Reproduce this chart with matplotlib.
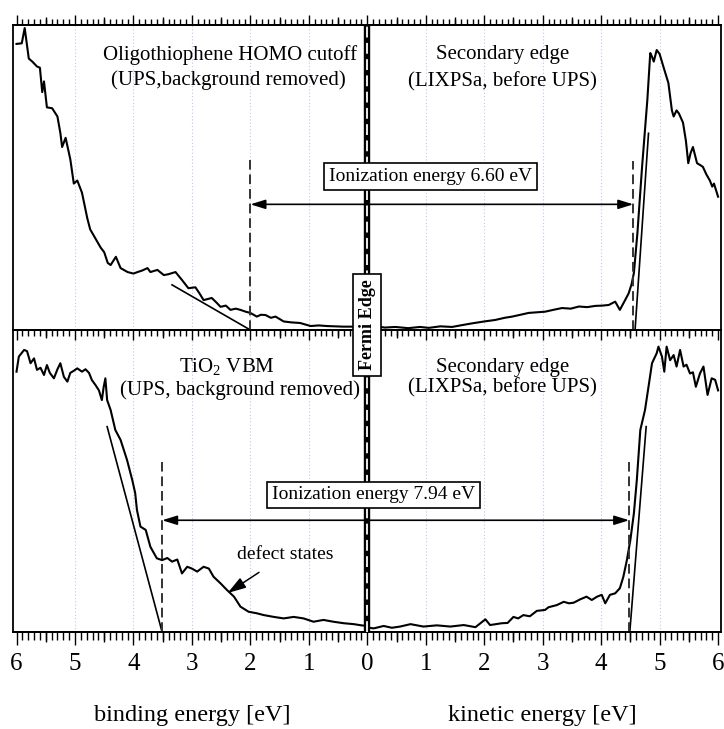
import matplotlib

matplotlib.use("Agg")
import matplotlib.pyplot as plt
import matplotlib.transforms as mtransforms
import numpy as np
from matplotlib.ticker import FuncFormatter, MultipleLocator

plt.rcParams["font.family"] = ["Liberation Serif", "DejaVu Serif"]
plt.rcParams["mathtext.fontset"] = "custom"
plt.rcParams["mathtext.rm"] = "Liberation Serif"

# --- top panel: oligothiophene (UPS, binding energy) + LIXPS secondary edge (kinetic energy)
top_be = [6.0, 5.91, 5.86, 5.79, 5.73, 5.65, 5.60, 5.56, 5.53, 5.48, 5.39, 5.30, 5.25, 5.22,
          5.16, 5.08, 5.02, 4.96, 4.88, 4.79, 4.74, 4.65, 4.56, 4.50, 4.44, 4.39, 4.30, 4.22,
          4.10, 4.00, 3.93, 3.85, 3.76, 3.71, 3.59, 3.48, 3.40, 3.28, 3.17, 3.06, 2.94, 2.87,
          2.80, 2.66, 2.58, 2.51, 2.42, 2.34, 2.25, 2.17, 2.08, 2.00, 1.89, 1.82, 1.74, 1.65,
          1.57, 1.43, 1.30, 1.15, 0.97, 0.83, 0.69, 0.55, 0.41, 0.23, 0.10, 0.0]
top_be_int = [0.938, 0.94, 0.99, 0.89, 0.88, 0.864, 0.86, 0.78, 0.815, 0.73, 0.727, 0.70, 0.646,
              0.60, 0.63, 0.56, 0.48, 0.49, 0.45, 0.367, 0.33, 0.30, 0.27, 0.255, 0.22, 0.213,
              0.24, 0.203, 0.19, 0.185, 0.19, 0.195, 0.203, 0.19, 0.197, 0.18, 0.183, 0.19,
              0.164, 0.137, 0.14, 0.12, 0.098, 0.105, 0.09, 0.076, 0.08, 0.066, 0.07, 0.066,
              0.06, 0.056, 0.044, 0.05, 0.049, 0.04, 0.044, 0.028, 0.025, 0.023, 0.013, 0.015,
              0.013, 0.012, 0.011, 0.011, 0.01, 0.008]
top_ke = [0.0, 0.15, 0.3, 0.48, 0.7, 0.9, 1.05, 1.25, 1.45, 1.62, 1.8, 2.0, 2.19, 2.35, 2.48,
          2.62, 2.76, 2.9, 3.04, 3.18, 3.33, 3.48, 3.62, 3.76, 3.9, 4.02, 4.13, 4.24, 4.32,
          4.41, 4.47, 4.52, 4.56, 4.62, 4.70, 4.79, 4.84, 4.87, 4.90, 4.95, 5.00, 5.07, 5.15,
          5.21, 5.24, 5.29, 5.33, 5.40, 5.45, 5.49, 5.53, 5.57, 5.64, 5.70, 5.74, 5.80, 5.86,
          5.90, 5.93, 6.0]
top_ke_int = [0.01, 0.012, 0.008, 0.01, 0.006, 0.01, 0.007, 0.012, 0.01, 0.016, 0.022, 0.028,
              0.033, 0.04, 0.044, 0.05, 0.056, 0.058, 0.06, 0.066, 0.072, 0.07, 0.077, 0.075,
              0.079, 0.08, 0.082, 0.093, 0.066, 0.098, 0.12, 0.15, 0.187, 0.317, 0.535, 0.754,
              0.908, 0.896, 0.88, 0.918, 0.905, 0.86, 0.81, 0.72, 0.70, 0.72, 0.71, 0.68, 0.62,
              0.547, 0.58, 0.60, 0.547, 0.54, 0.535, 0.51, 0.49, 0.47, 0.48, 0.437]

# --- bottom panel: TiO2 VBM (UPS) + LIXPS secondary edge
bot_be = [6.0, 5.96, 5.87, 5.82, 5.76, 5.70, 5.65, 5.59, 5.53, 5.48, 5.43, 5.36, 5.30, 5.25,
          5.19, 5.13, 5.08, 5.02, 4.96, 4.88, 4.82, 4.76, 4.71, 4.65, 4.59, 4.54, 4.51, 4.48,
          4.45, 4.39, 4.31, 4.22, 4.11, 4.02, 3.97, 3.94, 3.88, 3.79, 3.71, 3.60, 3.51, 3.42,
          3.34, 3.25, 3.17, 3.08, 3.00, 2.91, 2.80, 2.71, 2.63, 2.51, 2.40, 2.28, 2.17, 2.03,
          1.89, 1.77, 1.60, 1.43, 1.26, 1.09, 0.92, 0.75, 0.58, 0.40, 0.23, 0.10, 0.0]
bot_be_int = [0.862, 0.912, 0.934, 0.93, 0.89, 0.906, 0.868, 0.875, 0.851, 0.884, 0.858, 0.84,
              0.87, 0.89, 0.845, 0.829, 0.858, 0.865, 0.873, 0.862, 0.87, 0.858, 0.834, 0.818,
              0.80, 0.768, 0.81, 0.84, 0.768, 0.735, 0.669, 0.636, 0.57, 0.503, 0.46, 0.404,
              0.349, 0.338, 0.282, 0.244, 0.238, 0.245, 0.233, 0.24, 0.194, 0.216, 0.21, 0.2,
              0.216, 0.21, 0.183, 0.161, 0.139, 0.117, 0.084, 0.067, 0.062, 0.056, 0.05, 0.045,
              0.05, 0.045, 0.034, 0.04, 0.034, 0.029, 0.026, 0.022, 0.02]
bot_ke = [0.0, 0.11, 0.28, 0.42, 0.56, 0.74, 0.96, 1.19, 1.42, 1.65, 1.85, 2.02, 2.10, 2.30,
          2.40, 2.50, 2.58, 2.67, 2.78, 2.90, 3.04, 3.10, 3.24, 3.36, 3.45, 3.53, 3.64, 3.75,
          3.84, 3.93, 4.01, 4.07, 4.15, 4.24, 4.32, 4.38, 4.44, 4.50, 4.56, 4.61, 4.67, 4.75,
          4.81, 4.87, 4.95, 4.98, 5.04, 5.08, 5.12, 5.18, 5.24, 5.29, 5.35, 5.41, 5.46, 5.52,
          5.57, 5.62, 5.69, 5.75, 5.82, 5.89, 5.95, 6.0]
bot_ke_int = [0.015, 0.012, 0.02, 0.014, 0.018, 0.026, 0.018, 0.022, 0.018, 0.023, 0.016, 0.042,
              0.023, 0.029, 0.03, 0.05, 0.045, 0.056, 0.052, 0.07, 0.073, 0.082, 0.089, 0.1,
              0.095, 0.097, 0.108, 0.117, 0.106, 0.117, 0.123, 0.095, 0.123, 0.128, 0.145,
              0.183, 0.238, 0.305, 0.393, 0.503, 0.669, 0.735, 0.812, 0.89, 0.923, 0.945, 0.912,
              0.862, 0.945, 0.90, 0.917, 0.879, 0.934, 0.879, 0.885, 0.856, 0.86, 0.812, 0.856,
              0.879, 0.785, 0.84, 0.835, 0.80]

# onsets (eV) and linear fits used to find them, as (signed energy, intensity) pairs
top_homo_onset = 2.00
top_sec_edge = 4.55
bot_vbm_onset = 3.51
bot_sec_edge = 4.48
top_fit_left = ([-3.34, -2.00], [0.148, 0.0])
top_fit_right = ([4.58, 4.81], [0.0, 0.645])
bot_fit_left = ([-4.45, -3.51], [0.68, 0.0])
bot_fit_right = ([4.49, 4.77], [0.0, 0.68])
ionization = [6.60, 7.94]

fig = plt.figure(figsize=(7.24, 7.29), dpi=100)
ax1 = fig.add_axes([13 / 724, 1 - 330 / 729, 708 / 724, 305 / 729])
ax2 = fig.add_axes([13 / 724, 1 - 632 / 729, 708 / 724, 302 / 729])
ax2.set_facecolor("none")
ax1.set_zorder(1)
ax1.set_facecolor("none")

half_ticks = np.arange(-5.5, 6, 1.0)

for ax in (ax1, ax2):
    ax.set_xlim(-6.06, 6.05)
    ax.set_ylim(0, 1)
    ax.set_yticks([])
    ax.xaxis.set_major_locator(MultipleLocator(1))
    ax.xaxis.set_minor_locator(MultipleLocator(0.1))
    for s in ax.spines.values():
        s.set_linewidth(1.3)
    for g in [-5, -4, -3, -2, -1, 1, 2, 3, 4, 5]:
        ax.axvline(g, color="#c4c4f0", lw=0.8, ls=(0, (1, 2)), zorder=0)
    # Fermi edge marker
    ax.axvline(0, color="black", lw=4.6, zorder=3)
    ax.axvline(0, color="white", lw=1.3, ls=(0, (6, 3)), zorder=3)

ax1.tick_params(axis="x", which="both", direction="out", top=True, bottom=True,
                labelbottom=False, width=1.0)
ax1.tick_params(axis="x", which="major", length=7)
ax1.tick_params(axis="x", which="minor", length=4)
ax2.tick_params(axis="x", which="both", direction="out", top=False, bottom=True, width=1.0,
                labelsize=18, pad=6)
ax2.tick_params(axis="x", which="major", length=9)
ax2.tick_params(axis="x", which="minor", length=5.5)
ax2.xaxis.set_major_formatter(FuncFormatter(lambda v, p: f"{abs(v):g}"))

# half-unit ticks of intermediate length
for ax, side, ln in ((ax1, "top", 5.5), (ax1, "bottom", 5.5), (ax2, "bottom", 7.5)):
    sec = ax.secondary_xaxis(side)
    sec.set_xticks(half_ticks)
    sec.tick_params(axis="x", direction="out", length=ln, width=1.0,
                    labeltop=False, labelbottom=False)
    sec.spines[side].set_linewidth(1.3)

# spectra
ax1.plot(-np.array(top_be), top_be_int, color="black", lw=1.5, zorder=2)
ax1.plot(top_ke, top_ke_int, color="black", lw=1.5, zorder=2)
ax2.plot(-np.array(bot_be), bot_be_int, color="black", lw=1.5, zorder=2)
ax2.plot(bot_ke, bot_ke_int, color="black", lw=1.5, zorder=2)

ax1.plot(*top_fit_left, color="black", lw=1.2)
ax1.plot(*top_fit_right, color="black", lw=1.2)
ax2.plot(*bot_fit_left, color="black", lw=1.2)
ax2.plot(*bot_fit_right, color="black", lw=1.2)

dash = (0, (5, 2.5))
ax1.plot([-top_homo_onset] * 2, [0, 0.557], color="#333333", lw=1.4, ls=dash)
ax1.plot([top_sec_edge] * 2, [0, 0.553], color="#333333", lw=1.4, ls=dash)
ax2.plot([-bot_vbm_onset] * 2, [0, 0.564], color="#333333", lw=1.4, ls=dash)
ax2.plot([bot_sec_edge] * 2, [0, 0.564], color="#333333", lw=1.4, ls=dash)

arrow = dict(arrowstyle="<|-|>,head_length=0.9,head_width=0.28", color="black", lw=1.2,
             shrinkA=0, shrinkB=0)
ax1.annotate("", xy=(-top_homo_onset, 0.412), xytext=(top_sec_edge, 0.412), arrowprops=arrow)
ax2.annotate("", xy=(-bot_vbm_onset, 0.370), xytext=(bot_sec_edge, 0.370), arrowprops=arrow)

box = dict(boxstyle="square,pad=0.25", fc="white", ec="black", lw=1.2)
ax1.text(1.08, 0.503, f"Ionization energy {ionization[0]:.2f} eV", ha="center", va="center",
         fontsize=14, bbox=box, zorder=5)
ax2.text(0.10, 0.454, f"Ionization energy {ionization[1]:.2f} eV", ha="center", va="center",
         fontsize=14, bbox=box, zorder=5)

fs = 15
ax1.text(-2.35, 0.902, "Oligothiophene HOMO cutoff", ha="center", va="center", fontsize=fs)
ax1.text(-2.38, 0.82, "(UPS,background removed)", ha="center", va="center", fontsize=fs)
ax1.text(2.31, 0.902, "Secondary edge", ha="center", va="center", fontsize=fs)
ax1.text(2.31, 0.813, "(LIXPSa, before UPS)", ha="center", va="center", fontsize=fs)
ax2.text(-2.40, 0.877, "TiO$_2$ VBM", ha="center", va="center", fontsize=fs)
ax2.text(-2.17, 0.80, "(UPS, background removed)", ha="center", va="center", fontsize=fs)
ax2.text(2.31, 0.877, "Secondary edge", ha="center", va="center", fontsize=fs)
ax2.text(2.31, 0.808, "(LIXPSa, before UPS)", ha="center", va="center", fontsize=fs)

ax2.annotate("defect states", xy=(-2.39, 0.129), xytext=(-1.40, 0.255), ha="center",
             va="center", fontsize=14,
             arrowprops=dict(arrowstyle="-|>,head_length=0.8,head_width=0.25", color="black",
                             lw=1.1, shrinkA=8, shrinkB=0))

fig.text(0, 0.016, "Fermi Edge", transform=ax1.transData, rotation=90, ha="center",
         va="center", fontsize=13, fontweight="bold",
         bbox=dict(boxstyle="square,pad=0.3", fc="white", ec="black", lw=1.2))

lab = mtransforms.blended_transform_factory(ax2.transData, fig.transFigure)
fig.text(-3.0, 1 - 715 / 729, "binding energy [eV]", transform=lab, ha="center", va="center",
         fontsize=17.5)
fig.text(3.0, 1 - 715 / 729, "kinetic energy [eV]", transform=lab, ha="center", va="center",
         fontsize=17.5)

fig.savefig("out.png", dpi=100)
